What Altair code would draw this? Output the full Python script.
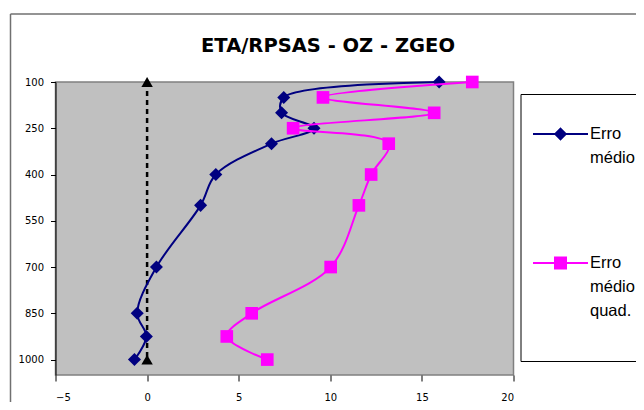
import altair as alt
import pandas as pd

# ---- data ----
levels = [100, 150, 200, 250, 300, 400, 500, 700, 850, 925, 1000]
erro_medio = [15.94, 7.46, 7.34, 9.11, 6.79, 3.75, 2.92, 0.51, -0.54, -0.04, -0.69]
erro_medio_quad = [17.75, 9.6, 15.67, 7.97, 13.19, 12.23, 11.56, 10.02, 5.71, 4.35, 6.56]
series = ["Erro médio", "Erro médio quad."]
colors = ["#000080", "#FF00FF"]
ref_levels = [100, 1000]
ref_values = [0, 0]
y_ticks = [100, 250, 400, 550, 700, 850, 1000]
x_ticks = [-5, 0, 5, 10, 15, 20]
title_text = "ETA/RPSAS - OZ - ZGEO"

rows = []
for lv, a, b in zip(levels, erro_medio, erro_medio_quad):
    rows.append({"serie": series[0], "nivel": lv, "valor": a})
    rows.append({"serie": series[1], "nivel": lv, "valor": b})
df = pd.DataFrame(rows)
ref_df = pd.DataFrame({"nivel": ref_levels, "valor": ref_values})
one = pd.DataFrame({"k": [0]})

W, H = 458, 293
FONT = "DejaVu Sans"
LEG_FONT = "Liberation Sans"

x_enc = alt.X(
    "valor:Q",
    scale=alt.Scale(domain=[-5, 20], nice=False, zero=False),
    axis=alt.Axis(values=x_ticks, title=None, grid=False, domain=False,
                  tickColor="black", tickSize=6, labelPadding=11, format="d",
                  labelFont=FONT, labelFontSize=10, labelColor="black"),
)
y_enc = alt.Y(
    "nivel:Q",
    scale=alt.Scale(domain=[100, 1050], reverse=True, nice=False, zero=False),
    axis=alt.Axis(values=y_ticks, title=None, grid=False, domainColor="black",
                  tickColor="black", tickSize=5, labelPadding=7, format="d",
                  labelFont=FONT, labelFontSize=10, labelColor="black"),
)
color_scale = alt.Scale(domain=series, range=colors)

# legend symbols: a line through the marker (second one also reaches down to size the box)
sym_medio = "M-1,0H1M0,-0.19L0.19,0L0,0.19L-0.19,0Z"
sym_quad = "M0,3.0M-1,0H1M-0.2,-0.2H0.2V0.2H-0.2Z"

leg = dict(title=None, orient="none", legendX=465, legendY=12,
           strokeColor="black", fillColor="white", padding=11.5,
           symbolSize=3025, symbolStrokeWidth=2,
           labelFont=LEG_FONT, labelFontSize=16.5, labelColor="black",
           labelExpr="split(datum.label, ' ')", labelBaseline="middle",
           labelOffset=1, rowPadding=68, labelLimit=300)

base = alt.Chart(df)

layers = []
for s, c, shp, sz in zip(series, colors, ["diamond", "square"], [170, 160]):
    sub = base.transform_filter(alt.datum.serie == s)
    layers.append(sub.mark_line(interpolate="catmull-rom", strokeWidth=2, color=c).encode(
        x=x_enc, y=y_enc, order="nivel:Q"))
    layers.append(sub.mark_point(shape=shp, filled=True, size=sz, opacity=1, color=c).encode(
        x=x_enc, y=y_enc))

# legend-only layer: its marks are pushed outside the x domain and clipped away
legend_layer = base.transform_calculate(fora="datum.valor + 1000").mark_point(
    filled=True, opacity=1, clip=True
).encode(
    x=alt.X("fora:Q", scale=alt.Scale(domain=[-5, 20], nice=False, zero=False)),
    y=y_enc,
    color=alt.Color("serie:N", scale=color_scale, legend=alt.Legend(**leg)),
    stroke=alt.Stroke("serie:N", scale=alt.Scale(domain=series, range=colors), legend=alt.Legend(**leg)),
    shape=alt.Shape("serie:N", scale=alt.Scale(domain=series, range=[sym_medio, sym_quad]), legend=alt.Legend(**leg)),
)

ref_line = alt.Chart(ref_df).mark_line(color="black", strokeWidth=2.5, strokeDash=[5, 4]).encode(
    x=x_enc, y=y_enc)
ref_pts = alt.Chart(ref_df).mark_point(shape="triangle-up", filled=True, size=130,
                                       color="black", opacity=1).encode(x=x_enc, y=y_enc)

border_left = alt.Chart(one).mark_rule(color="#707070", strokeWidth=1.5).encode(
    x=alt.value(-45), y=alt.value(-68), y2=alt.value(H + 60))
border_top = alt.Chart(one).mark_rule(color="#707070", strokeWidth=1.5).encode(
    x=alt.value(-45), x2=alt.value(W + 200), y=alt.value(-68))

chart = alt.layer(
    border_left, border_top, ref_line, *layers, ref_pts, legend_layer
).properties(
    width=W, height=H,
    title=alt.TitleParams(title_text, font=FONT, fontSize=19.5, fontWeight="bold",
                          color="black", anchor="middle", frame="group", dx=43.5, dy=47),
    autosize=alt.AutoSizeParams(type="none"),
    padding={"left": 47.5, "top": 74, "right": 122.5, "bottom": 27},
    background="white",
).configure(
    style={"guide-label": {"lineHeight": 24}}
).configure_view(
    fill="#C0C0C0", stroke="#808080", strokeWidth=1.5
)

chart.save("out.html", embed_options={"renderer": "svg", "actions": False})
